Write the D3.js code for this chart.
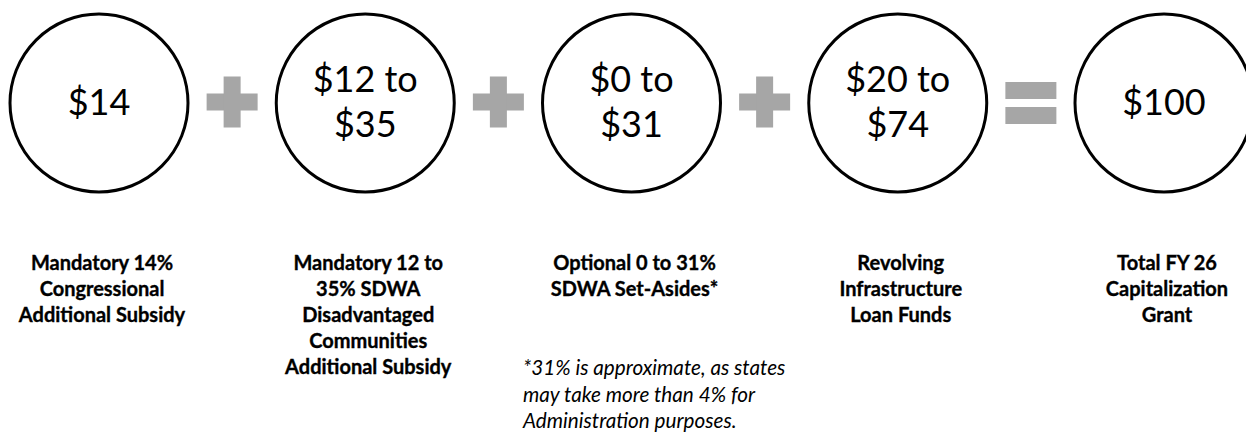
<!DOCTYPE html>
<html>
<head>
<meta charset="utf-8">
<script src="https://cdn.jsdelivr.net/npm/d3@7"></script>
<style>
  body { margin: 0; background: #fff; }
  svg { display: block; }
</style>
</head>
<body>
<div class="chart"></div>
<script>
var values = {
  width: 1246,
  height: 433
};

// circle amounts (lines of text inside each circle)
var amounts = [
  ["$14"],
  ["$12 to", "$35"],
  ["$0 to", "$31"],
  ["$20 to", "$74"],
  ["$100"]
];
// labels under each circle
var labels = [
  ["Mandatory 14%", "Congressional", "Additional Subsidy"],
  ["Mandatory 12 to", "35% SDWA", "Disadvantaged", "Communities", "Additional Subsidy"],
  ["Optional 0 to 31%", "SDWA Set-Asides*"],
  ["Revolving", "Infrastructure", "Loan Funds"],
  ["Total FY 26", "Capitalization", "Grant"]
];
// operators between circles
var operators = ["+", "+", "+", "="];
var footnote = [
  "*31% is approximate, as states",
  "may take more than 4% for",
  "Administration purposes."
];

var idx = d3.range(amounts.length);

var x = d3.scalePoint()
  .domain(idx)
  .range([99, 1164]);

// labels sit a little right of the circle centres
var xl = d3.scalePoint()
  .domain(idx)
  .range([102, 1167]);

var cy = 103, r = 89;
var grey = "#a6a6a6";

var svg = d3.select('.chart')
  .append('svg')
  .attr("width", values.width)
  .attr("height", values.height);

// circles
var g = svg.selectAll("g.item")
  .data(amounts)
  .enter()
  .append("g")
  .attr("class", "item")
  .attr("transform", (d, i) => "translate(" + x(i) + "," + cy + ")");

g.append("circle")
  .attr("r", r)
  .attr("fill", "#fff")
  .attr("stroke", "#000")
  .attr("stroke-width", 3);

g.each(function (d) {
  var t = d3.select(this).append("text")
    .attr("text-anchor", "middle")
    .style("font-family", "Lato, 'Open Sans', sans-serif")
    .style("font-size", "36px")
    .attr("fill", "#000");
  //one line is centred, two lines are split around the centre
  var base = d.length === 1 ? [12] : [-11, 34];
  d.forEach((line, j) => {
    t.append("tspan")
      .attr("x", 0)
      .attr("y", base[j])
      .text(line);
  });
});

// operators between the circles
var ops = svg.selectAll("g.op")
  .data(operators)
  .enter()
  .append("g")
  .attr("class", "op")
  .attr("transform", (d, i) => "translate(" + ((x(i) + x(i + 1)) / 2) + "," + cy + ")");

var size = 51, arm = 17;
ops.each(function (d) {
  var o = d3.select(this);
  if (d === "+") {
    o.append("rect")
      .attr("x", -size / 2).attr("y", -arm / 2 - 1)
      .attr("width", size).attr("height", arm)
      .attr("fill", grey);
    o.append("rect")
      .attr("x", -arm / 2).attr("y", -size / 2 - 1)
      .attr("width", arm).attr("height", size)
      .attr("fill", grey);
  } else {
    o.append("rect")
      .attr("x", -size / 2).attr("y", -21)
      .attr("width", size).attr("height", arm)
      .attr("fill", grey);
    o.append("rect")
      .attr("x", -size / 2).attr("y", 4)
      .attr("width", size).attr("height", arm)
      .attr("fill", grey);
  }
});

// labels
svg.selectAll("text.label")
  .data(labels)
  .enter()
  .append("text")
  .attr("class", "label")
  .attr("text-anchor", "middle")
  .style("font-family", "Lato, 'Open Sans', sans-serif")
  .style("font-weight", "bold")
  .style("font-size", "20px")
  .attr("fill", "#000")
  .attr("stroke", "#000")
  .attr("stroke-width", 0.35)
  .each(function (d, i) {
    var t = d3.select(this);
    d.forEach((line, j) => {
      t.append("tspan")
        .attr("x", xl(i))
        .attr("y", 270 + j * 26)
        .text(line);
    });
  });

// footnote under the set-asides label
svg.append("text")
  .attr("class", "note")
  .style("font-family", "Lato, 'Open Sans', sans-serif")
  .style("font-style", "italic")
  .style("font-size", "20.7px")
  .attr("fill", "#000")
  .selectAll("tspan")
  .data(footnote)
  .enter()
  .append("tspan")
  .attr("x", 523)
  .attr("y", (d, i) => 375 + i * 26.5)
  .text(d => d);
</script>
</body>
</html>
